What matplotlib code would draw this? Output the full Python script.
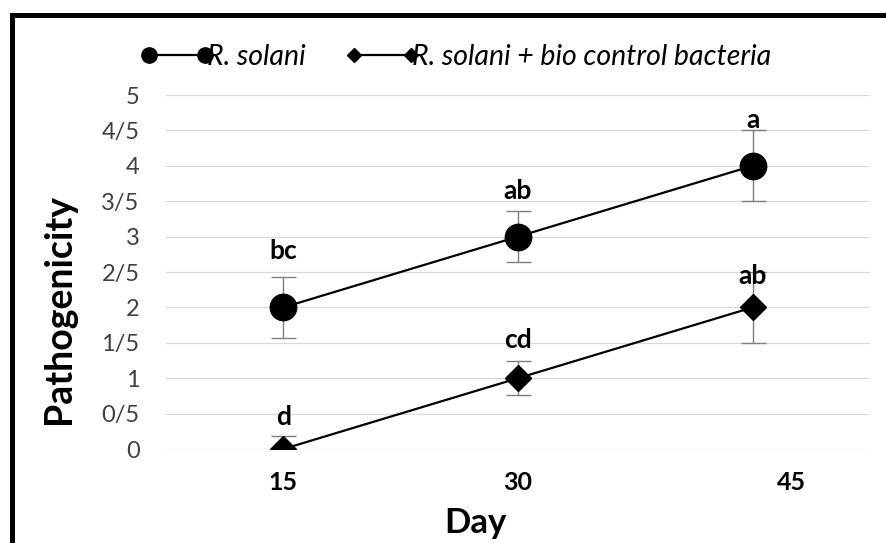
import matplotlib
matplotlib.use("Agg")
import matplotlib.pyplot as plt
from matplotlib.lines import Line2D
from matplotlib.patches import Rectangle
from matplotlib.transforms import ScaledTranslation

plt.rcParams['font.family'] = ['Lato', 'DejaVu Sans']

days = ["15", "30", "45"]
solani = [2, 3, 4]
solani_err = [0.43, 0.36, 0.5]
solani_letters = ["bc", "ab", "a"]
solani_letter_y = [2.79, 3.64, 4.65]

bio = [0, 1, 2]
bio_err = [0.18, 0.24, 0.5]
bio_letters = ["d", "cd", "ab"]
bio_letter_y = [0.45, 1.54, 2.44]

yticks = [0, 0.5, 1, 1.5, 2, 2.5, 3, 3.5, 4, 4.5, 5]
ytick_labels = ["0", "0/5", "1", "1/5", "2", "2/5", "3", "3/5", "4", "4/5", "5"]

fig = plt.figure(figsize=(8.86, 5.43), dpi=100)
ax = fig.add_axes([166/886, 1-449/543, (870-166)/886, (449-95)/543])

x = list(range(len(days)))

ax.errorbar(x, solani, yerr=solani_err, fmt='none', ecolor='#7f7f7f',
            elinewidth=1, capsize=9, capthick=1, zorder=2)
ax.errorbar(x, bio, yerr=bio_err, fmt='none', ecolor='#7f7f7f',
            elinewidth=1, capsize=9, capthick=1, zorder=2)
ax.plot(x, solani, color='black', lw=1.6, marker='o', markersize=19,
        markerfacecolor='black', zorder=3)
ax.plot(x, bio, color='black', lw=1.6, marker='D', markersize=13,
        markerfacecolor='black', zorder=3)

for xi, t, yy in zip(x, solani_letters, solani_letter_y):
    ax.text(xi, yy, t, ha='center', va='center', fontsize=19, fontweight='bold', zorder=4)
for xi, t, yy in zip(x, bio_letters, bio_letter_y):
    ax.text(xi, yy, t, ha='center', va='center', fontsize=19, fontweight='bold', zorder=4)

ax.set_xlim(-0.5, len(days) - 0.5)
ax.set_ylim(0, 5)
ax.set_yticks(yticks)
ax.set_yticklabels(ytick_labels, fontsize=17, color='#404040')
ax.set_xticks(x)
ax.set_xticklabels(days, fontsize=18, fontweight='bold')
ax.tick_params(axis='both', length=0)
ax.tick_params(axis='y', pad=19)
ax.tick_params(axis='x', pad=16)
ax.grid(axis='y', color='#d9d9d9', lw=0.9)
ax.set_axisbelow(True)
for s in ax.spines.values():
    s.set_visible(False)

lab = ax.xaxis.get_major_ticks()[2].label1
lab.set_transform(lab.get_transform() + ScaledTranslation(0.39, 0, fig.dpi_scale_trans))

ax.set_ylabel("Pathogenicity", fontsize=27, fontweight='bold')
ax.yaxis.set_label_coords(-0.128, 0.395)
ax.set_xlabel("Day", fontsize=25, fontweight='bold')
ax.xaxis.set_label_coords(0.44, -0.165)

h1 = Line2D([], [], color='black', lw=1.6, marker='o', markersize=11)
h2 = Line2D([], [], color='black', lw=1.6, marker='D', markersize=7)
fig.legend([h1, h2], ["R. solani", "R. solani + bio control bacteria"],
           loc='center left', bbox_to_anchor=(140/886, 1-57/543), ncol=2,
           frameon=False, numpoints=2, handlelength=2.6, handletextpad=-0.25,
           columnspacing=1.4, borderpad=0, borderaxespad=0,
           prop={'size': 20.5, 'style': 'italic'})

fig.add_artist(Rectangle((11.5/886, -0.2), 1.5, 1.2 - 14.5/543, transform=fig.transFigure,
                         fill=False, edgecolor='black', lw=3.6))

fig.savefig("out.png", dpi=100)
